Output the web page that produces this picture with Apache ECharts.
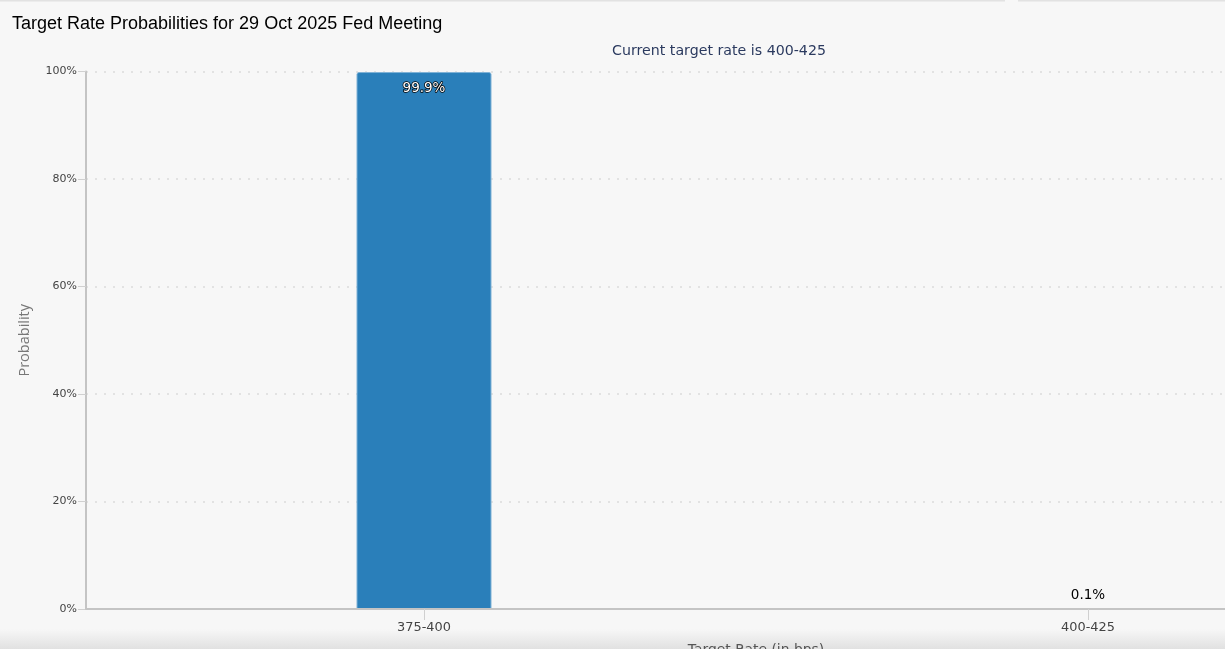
<!DOCTYPE html>
<html><head><meta charset="utf-8">
<style>html,body{margin:0;padding:0;background:#f7f7f7;overflow:hidden}#c{width:1225px;height:649px}</style>
<script src="https://cdn.jsdelivr.net/npm/echarts@6/dist/echarts.min.js"></script>
</head><body><div id="c"></div>
<script>
const categories = ['375-400', '400-425'];
const probabilities = [99.9, 0.1];
const dataLabels = ['99.9%', '0.1%'];
const yTicks = [0, 20, 40, 60, 80, 100];
const titleText = 'Target Rate Probabilities for 29 Oct 2025 Fed Meeting';
const subtitleText = 'Current target rate is 400-425';
const xName = 'Target Rate (in bps)';
const yName = 'Probability';
const font = '"DejaVu Sans", sans-serif';

const chart = echarts.init(document.getElementById('c'), null, {renderer: 'canvas'});
chart.setOption({
  backgroundColor: '#f7f7f7',
  animation: false,
  title: [
    {text: titleText, left: 7, top: 10, textStyle: {fontFamily: '"Liberation Sans", Arial, sans-serif', fontSize: 18, fontWeight: 'normal', color: '#000'}},
    {text: subtitleText, left: 714, textAlign: 'center', top: 39, textStyle: {fontFamily: font, fontSize: 14.2, fontWeight: 'normal', color: '#2b3a5f'}}
  ],
  grid: [
    {left: 92, top: 71.5, width: 1328, height: 537.5, outerBoundsMode: 'none'},
    {left: 86, top: 71.5, width: 1139, height: 537.5, outerBoundsMode: 'none'}
  ],
  xAxis: [
    {gridIndex: 0, type: 'category', data: categories, position: 'bottom',
      axisLine: {show: false},
      axisTick: {show: true, alignWithLabel: true, length: 11, lineStyle: {color: '#d0d0d0', width: 1}},
      axisLabel: {margin: 12, fontFamily: font, fontSize: 12.9, color: '#444'},
      name: xName, nameLocation: 'middle', nameGap: 34,
      nameTextStyle: {fontFamily: font, fontSize: 13.9, color: '#555'},
      z: 30},
    {gridIndex: 1, type: 'value', min: 0, max: 1, position: 'bottom', z: 6,
      axisLine: {show: true, onZero: false, lineStyle: {color: '#c4c4c4', width: 2}},
      axisTick: {show: false}, axisLabel: {show: false}, splitLine: {show: false}}
  ],
  yAxis: [
    {gridIndex: 0, type: 'value', min: 0, max: 100, show: false},
    {gridIndex: 1, type: 'value', min: 0, max: 100, interval: 20,
      axisLine: {show: true, lineStyle: {color: '#c4c4c4', width: 2}},
      axisTick: {show: true, length: 8, lineStyle: {color: '#d0d0d0', width: 1}},
      axisLabel: {margin: 9, padding: [1, 0, 0, 0], fontFamily: font, fontSize: 11, color: '#444',
        formatter: v => yTicks.includes(v) ? v + '%' : ''},
      splitLine: {show: true, lineStyle: {color: '#e2e2e2', type: [2, 7], width: 2}},
      name: yName, nameLocation: 'middle', nameGap: 54, nameRotate: 90,
      nameTextStyle: {fontFamily: '"Open Sans", sans-serif', fontSize: 14.5, color: '#777'}}
  ],
  series: [
    {type: 'bar', xAxisIndex: 0, yAxisIndex: 0, barWidth: 135, z: 5,
      itemStyle: {color: '#2a7fba', borderColor: '#7fb2d6', borderWidth: 1, borderRadius: [2, 2, 0, 0]},
      data: probabilities.map((v, i) => ({
        value: v,
        label: i === 0
          ? {show: true, position: 'insideTop', distance: 9, formatter: dataLabels[i], fontFamily: font, fontSize: 13.5, color: '#fff', textBorderColor: '#000', textBorderWidth: 1.5}
          : {show: true, position: 'top', distance: 6, formatter: dataLabels[i], fontFamily: font, fontSize: 13.5, color: '#000'}
      }))}
  ],
  graphic: [
    {type: 'rect', silent: true, z: 20, shape: {x: 0, y: 0, width: 1005, height: 1.5}, style: {fill: '#e2e2e2'}},
    {type: 'rect', silent: true, z: 20, shape: {x: 1018, y: 0, width: 207, height: 1.5}, style: {fill: '#e2e2e2'}},
    {type: 'rect', silent: true, z: 20, shape: {x: 0, y: 629, width: 1225, height: 20},
      style: {fill: new echarts.graphic.LinearGradient(0, 0, 0, 1, [
        {offset: 0, color: 'rgba(225,225,225,0)'},
        {offset: 1, color: 'rgba(225,225,225,1)'}])}}
  ]
});
</script></body></html>
